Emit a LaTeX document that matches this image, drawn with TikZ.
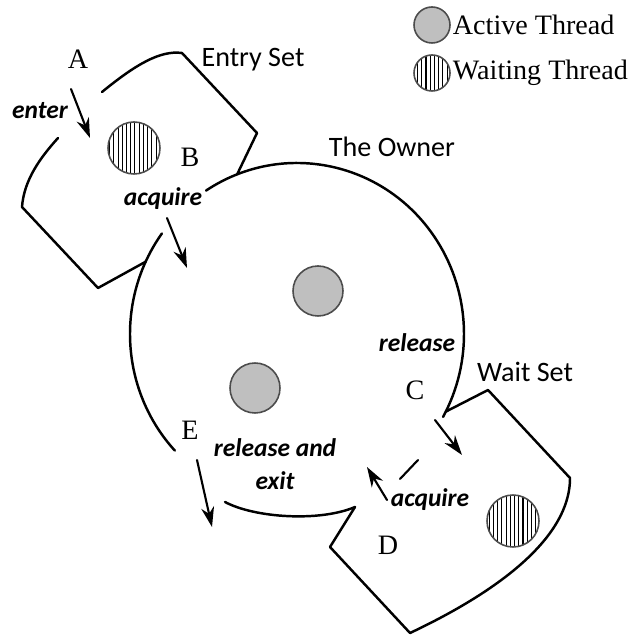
\documentclass[tikz,border=0pt]{standalone}
\usepackage{fontspec}
\setmainfont{Liberation Serif}
\newfontfamily\setfont{Carlito}
\usetikzlibrary{arrows.meta,calc,patterns.meta}

\tikzset{
  setline/.style={line width=1.4pt},
  flow/.style={line width=1.2pt, -{Stealth[length=4mm,width=2.6mm]}},
  active/.style={circle, draw=black!70, fill=black!25, line width=0.9pt, minimum size=10mm, inner sep=0pt},
  waiting/.style={circle, draw=black!70, line width=0.9pt, minimum size=10.4mm, inner sep=0pt,
    pattern={Lines[angle=90,distance=2.4pt,line width=0.6pt]}},
  setname/.style={font=\setfont\fontsize{16}{18}\selectfont},
  action/.style={font=\setfont\bfseries\itshape\fontsize{14.5}{19}\selectfont, align=center},
  letter/.style={font=\fontsize{16}{18}\selectfont},
  keytext/.style={font=\fontsize{16}{18}\selectfont, anchor=west, inner sep=1pt},
}

\begin{document}
\begin{tikzpicture}[x=0.2mm, y=0.2mm, line cap=round, line join=round]

\useasboundingbox (0,0) rectangle (635,636);

\coordinate (owner) at (297,302);
\coordinate (entryjoin) at ($(owner)+(111:167 and 171)$);
\coordinate (entrycorner) at ($(owner)+(155:167 and 171)$);
\coordinate (waitjoin) at ($(owner)+(-27:167 and 171)$);

% entry set
\draw[setline] (102,544) .. controls (135,571) and (160,586) .. (182,583) -- (257,503) -- (entryjoin);
\draw[setline] (58,498) .. controls (40,478) and (24,456) .. (22,429) -- (98,348) -- (entrycorner);

% the owner
\draw[setline] (owner) ++(123:167 and 171) arc[start angle=123, end angle=-29, x radius=167, y radius=171];
\draw[setline] (owner) ++(144:167 and 171) arc[start angle=144, end angle=223, x radius=167, y radius=171];
\draw[setline] (225,134) .. controls (255,118) and (320,114) .. (355,129);

% wait set
\draw[setline] (waitjoin) -- (488,246) -- (570,158) .. controls (570,91) and (480,36) .. (410,3) -- (330,89) -- (355,129);

% threads
\node[waiting] (entrythread) at (134,488) {};
\node[active] (ownthread1) at (318,345) {};
\node[active] (ownthread2) at (255,248) {};
\node[waiting] (waitthread) at (513,115) {};

% transitions
\coordinate (enterfrom) at (71,547);  \coordinate (enterto) at (90,498);
\coordinate (acqBfrom) at (167,418);  \coordinate (acqBto) at (187,368);
\coordinate (relfrom) at (435,216);   \coordinate (relto) at (462,181);
\coordinate (acqDfrom) at (387,136);  \coordinate (acqDto) at (367,169);
\coordinate (exitfrom) at (197,176);  \coordinate (exitto) at (212,109);
\coordinate (tickfrom) at (400,157);  \coordinate (tickto) at (418,176);
\draw[flow] (enterfrom) -- (enterto);
\draw[flow] (acqBfrom) -- (acqBto);
\draw[flow] (relfrom) -- (relto);
\draw[flow] (acqDfrom) -- (acqDto);
\draw[flow] (exitfrom) -- (exitto);
\draw[line width=1.2pt] (tickfrom) -- (tickto);

% labels
\node[letter] (lA) at (78,577) {A};
\node[letter] (lB) at (190,479) {B};
\node[letter] (lC) at (415,246) {C};
\node[letter] (lD) at (388,91) {D};
\node[letter] (lE) at (190,206) {E};
\node[action] (enter) at (40,525) {enter};
\node[action] (acquireB) at (163,437) {acquire};
\node[action] (release) at (417,293) {release};
\node[action] (relexit) at (275,172) {release and\\exit};
\node[action] (acquireD) at (430,136) {acquire};
\node[setname] (entryset) at (253,576) {Entry Set};
\node[setname] (theowner) at (392,489) {The Owner};
\node[setname] (waitset) at (525,264) {Wait Set};

% key
\node[active, minimum size=7.2mm] (keyactive) at (432,611) {};
\node[waiting, minimum size=7.2mm] (keywaiting) at (432,563) {};
\node[keytext] (keyactivetext) at (keyactive.east) {Active Thread};
\node[keytext] (keywaitingtext) at (keywaiting.east) {Waiting Thread};

\end{tikzpicture}
\end{document}
